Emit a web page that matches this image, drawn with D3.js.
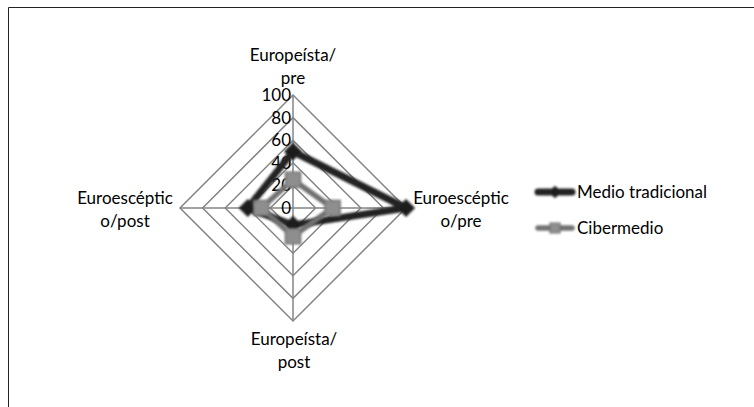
<!DOCTYPE html>
<html>
<head>
<meta charset="utf-8">
<script src="https://cdn.jsdelivr.net/npm/d3@7"></script>
<style>
  body { margin: 0; background: #fff; }
  svg text { font-family: Lato, "Open Sans", sans-serif; fill: #000; }
</style>
</head>
<body>
<div id="chart"></div>
<script>
// RADAR CHART
// data
const AXES = [["Europeísta/", "pre"], ["Euroescéptic", "o/pre"], ["Europeísta/", "post"], ["Euroescéptic", "o/post"]];
const SERIES_NAMES = ["Medio tradicional", "Cibermedio"];
const MEDIO_TRADICIONAL = [50, 100, 15, 40];
const CIBERMEDIO = [25, 35, 25, 28];
const TICKS = [0, 20, 40, 60, 80, 100];

const FRAME_WIDTH = 754;
const FRAME_HEIGHT = 407;
const CENTER = {x: 293, y: 208};
const RADIUS = 113;

const FRAME = d3.select("#chart")
                .append("svg")
                  .attr("width", FRAME_WIDTH)
                  .attr("height", FRAME_HEIGHT);

// soft blur like the original shadows (user space so flat lines still show)
FRAME.append("defs")
  .append("filter").attr("id", "soft")
    .attr("filterUnits", "userSpaceOnUse")
    .attr("x", -800).attr("y", -500).attr("width", 2400).attr("height", 1400)
  .append("feGaussianBlur").attr("stdDeviation", 0.9);

// outer border (runs off to the right and bottom)
FRAME.append("path")
    .attr("d", "M8.5," + FRAME_HEIGHT + " V7.5 H" + FRAME_WIDTH)
    .attr("fill", "none")
    .attr("stroke", "#222")
    .attr("stroke-width", 1);

// radial scale
const R_SCALE = d3.scaleLinear()
                  .domain([0, 100])
                  .range([0, RADIUS]);

// angle for each axis, starting at the top, clockwise
const ANGLE = d3.scaleLinear()
                .domain([0, AXES.length])
                .range([0, 2 * Math.PI]);

function pt(i, v) {
    const a = ANGLE(i);
    return [CENTER.x + R_SCALE(v) * Math.sin(a), CENTER.y - R_SCALE(v) * Math.cos(a)];
}

// grid rings
FRAME.selectAll(".ring")
    .data(TICKS.slice(1))
    .enter()
    .append("polygon")
      .attr("points", (d) => AXES.map((a, i) => pt(i, d).join(",")).join(" "))
      .attr("fill", "none")
      .attr("stroke", "#858585")
      .attr("stroke-width", 1.5);

// spokes
FRAME.selectAll(".spoke")
    .data(AXES)
    .enter()
    .append("line")
      .attr("x1", CENTER.x).attr("y1", CENTER.y)
      .attr("x2", (d, i) => pt(i, 100)[0])
      .attr("y2", (d, i) => pt(i, 100)[1])
      .attr("stroke", "#858585")
      .attr("stroke-width", 1.5);

// tick labels along the top axis
FRAME.selectAll(".tick")
    .data(TICKS)
    .enter()
    .append("text")
      .attr("x", CENTER.x - 2)
      .attr("y", (d) => CENTER.y - R_SCALE(d) + 6)
      .attr("text-anchor", "end")
      .style("font-size", "17px")
      .text((d) => d);

// axis labels
const LABEL_POS = [[293, 61], [461, 204], [294, 345], [125, 204]];
AXES.forEach((a, i) => {
    const t = FRAME.append("text")
        .attr("text-anchor", "middle")
        .style("font-size", "17px");
    a.forEach((line, j) => {
        t.append("tspan")
          .attr("x", LABEL_POS[i][0])
          .attr("y", LABEL_POS[i][1] + j * 22.5)
          .text(line);
    });
});

// series
const SERIES = [
    {name: SERIES_NAMES[0], values: MEDIO_TRADICIONAL, line: "#242424", fill: "#1c1c1c", width: 7, rot: 45, size: 130},
    {name: SERIES_NAMES[1], values: CIBERMEDIO, line: "#717171", fill: "#8e8e8e", width: 5.5, rot: 0, size: 230}
];

const lineGen = d3.line().curve(d3.curveLinearClosed);

SERIES.forEach((s) => {
    const g = FRAME.append("g").attr("filter", "url(#soft)");
    g.append("path")
      .attr("d", lineGen(s.values.map((v, i) => pt(i, v))))
      .attr("fill", "none")
      .attr("stroke", s.line)
      .attr("stroke-width", s.width)
      .attr("stroke-linejoin", "round");
    g.selectAll("path.mk")
      .data(s.values)
      .enter()
      .append("path")
        .attr("class", "mk")
        .attr("transform", (d, i) => "translate(" + pt(i, d).join(",") + ") rotate(" + s.rot + ")")
        .attr("d", d3.symbol().type(d3.symbolSquare).size(s.size))
        .attr("fill", s.fill)
        .attr("stroke", s.line)
        .attr("stroke-width", 1.5);
});

// legend
const LEGEND_Y = [192, 228];
SERIES.forEach((s, i) => {
    const g = FRAME.append("g").attr("transform", "translate(535," + LEGEND_Y[i] + ")");
    const m = g.append("g").attr("filter", "url(#soft)");
    m.append("line")
      .attr("x1", 3).attr("x2", 37)
      .attr("stroke", s.line)
      .attr("stroke-width", s.width)
      .attr("stroke-linecap", "round");
    m.append("path")
      .attr("transform", "translate(20,0) rotate(" + s.rot + ")")
      .attr("d", d3.symbol().type(d3.symbolSquare).size(i === 0 ? 60 : 100))
      .attr("fill", s.fill)
      .attr("stroke", s.line)
      .attr("stroke-width", 1.2);
    g.append("text")
      .attr("x", 42)
      .attr("y", 6)
      .style("font-size", "17px")
      .text(s.name);
});
</script>
</body>
</html>
